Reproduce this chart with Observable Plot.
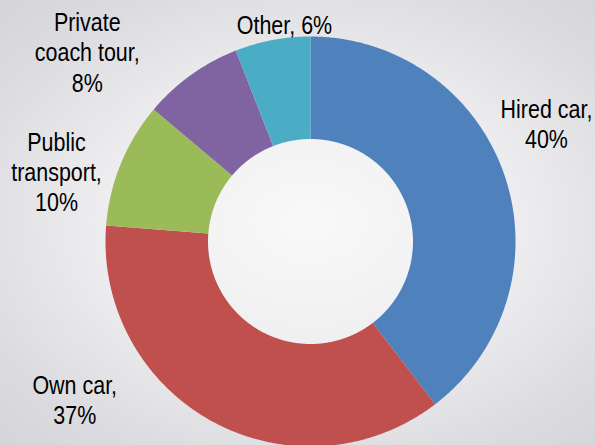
<!DOCTYPE html>
<html>
<head>
<meta charset="utf-8">
<script src="https://cdn.jsdelivr.net/npm/d3@7"></script>
<script src="https://cdn.jsdelivr.net/npm/@observablehq/plot@0.6"></script>
<style>
  html, body { margin: 0; padding: 0; }
  body {
    width: 595px; height: 445px; overflow: hidden;
    background: radial-gradient(ellipse 75% 70% at 52% 50%, #f9f9f9 0%, #eeeef0 45%, #dcdce0 80%, #d4d5d8 100%);
  }
  #chart svg { display: block; }
  #chart svg text { font-family: "Liberation Sans", Arial, sans-serif !important; }
</style>
</head>
<body>
<div id="chart"></div>
<script>
// ---- data ----
const categories = ["Hired car", "Own car", "Public transport", "Private coach tour", "Other"];
const labelText  = ["Hired car,\n40%", "Own car,\n37%", "Public\ntransport,\n10%", "Private\ncoach tour,\n8%", "Other, 6%"];
const shares     = [40, 37, 10, 8, 6];

// ---- styles / layout ----
const colors = ["#4F81BD", "#C0504D", "#9BBB59", "#8064A2", "#4BACC6"];
const W = 595, H = 445;
const cx = 310, cy = 241, R = 205;       // pixel centre and outer radius
const innerRatio = 0.5;
const narrow = 0.825;                    // horizontal squeeze to mimic a narrow face
// label anchor positions in unit (radius) coordinates
const labelU = [1.151, -1.150, -1.239, -1.089, -0.127];
const labelV = [0.576, -0.769, 0.343, 0.927, 1.062];

// ---- build arc polygons from the data ----
const pie = d3.pie().sort(null).value(d => d.share).startAngle(0).endAngle(2 * Math.PI);
const arcs = pie(categories.map((c, i) => ({category: c, share: shares[i]})));
const pts = [];
for (const a of arcs) {
  const n = Math.max(8, Math.ceil((a.endAngle - a.startAngle) / 0.005));
  for (let k = 0; k <= n; k++) {
    const t = a.startAngle + (a.endAngle - a.startAngle) * k / n;
    pts.push({category: a.data.category, u: Math.sin(t), v: Math.cos(t)});
  }
  for (let k = n; k >= 0; k--) {
    const t = a.startAngle + (a.endAngle - a.startAngle) * k / n;
    pts.push({category: a.data.category, u: innerRatio * Math.sin(t), v: innerRatio * Math.cos(t)});
  }
}
const labels = categories.map((c, i) => ({category: c, text: labelText[i], u: labelU[i], v: labelV[i]}));

const chart = Plot.plot({
  width: W, height: H,
  margin: 0,
  style: {background: "transparent"},
  x: {domain: [-cx / R, (W - cx) / R], range: [0, W], axis: null},
  y: {domain: [-(H - cy) / R, cy / R], range: [H, 0], axis: null},
  color: {domain: categories, range: colors},
  marks: [
    Plot.line(pts, {x: "u", y: "v", z: "category", fill: "category", stroke: null, curve: "linear-closed"}),
    Plot.text(labels, {x: "u", y: "v", text: "text", fontSize: 26, lineHeight: 1.17,
      textAnchor: "middle", lineAnchor: "middle", fill: "#000", className: "lbl"})
  ]
});
// squeeze label glyphs horizontally around their anchor
chart.querySelectorAll("text").forEach(t => {
  const tr = t.getAttribute("transform");
  if (tr) {
    t.setAttribute("transform", tr + ` scale(${narrow},1)`);
  } else {
    const x = +t.getAttribute("x") || 0, y = +t.getAttribute("y") || 0;
    t.setAttribute("x", 0); t.setAttribute("y", 0);
    t.setAttribute("transform", `translate(${x},${y}) scale(${narrow},1)`);
  }
});
document.getElementById("chart").append(chart);
</script>
</body>
</html>
